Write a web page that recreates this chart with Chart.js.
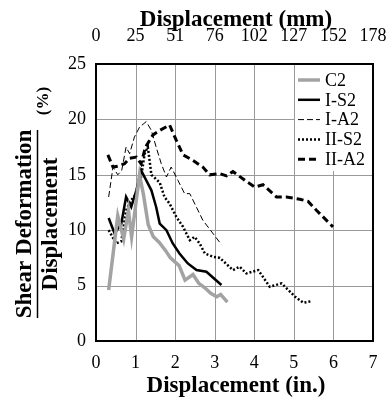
<!DOCTYPE html>
<html><head><meta charset="utf-8">
<script src="https://cdn.jsdelivr.net/npm/chart.js@4/dist/chart.umd.min.js"></script>
<style>html,body{margin:0;padding:0;background:#fff}#wrap{width:391px;height:398px}</style>
</head><body><div id="wrap"><canvas id="c" width="391" height="398"></canvas></div>
<script>
const seriesNames = ["C2", "I-S2", "I-A2", "II-S2", "II-A2"];
const xTicksIn = [0,1,2,3,4,5,6,7];
const xTicksMm = ["0","25","51","76","102","127","152","178"];
const yTicks = [0,5,10,15,20,25];

const c2 = [[0.32,4.6],[0.55,11.3],[0.7,9.2],[0.82,11.8],[0.9,9.4],[1.1,15.0],[1.2,13.2],[1.32,10.5],[1.45,9.4],[1.6,8.9],[1.75,8.2],[1.88,7.5],[2.1,6.8],[2.25,5.5],[2.45,6.0],[2.6,5.2],[2.75,4.8],[2.9,4.3],[3.05,4.0],[3.15,4.2],[3.32,3.5]];
const iS2 = [[0.32,11.1],[0.47,9.7],[0.64,10.6],[0.76,13.0],[0.89,12.1],[1.02,13.6],[1.14,15.4],[1.27,14.5],[1.4,13.6],[1.52,12.1],[1.61,10.6],[1.78,10.0],[1.94,8.8],[2.11,7.9],[2.32,7.0],[2.54,6.4],[2.79,6.25],[3.17,5.05]];
const iA2 = [[0.32,13.0],[0.43,15.7],[0.55,15.0],[0.65,15.4],[0.76,17.5],[0.85,16.9],[0.97,18.4],[1.1,19.3],[1.27,19.8],[1.4,19.0],[1.52,17.5],[1.65,16.0],[1.78,14.8],[1.9,15.7],[2.07,14.5],[2.24,13.3],[2.37,13.3],[2.7,10.9],[3.17,8.7]];
const iiS2 = [[0.32,10.0],[0.51,8.8],[0.64,9.0],[0.76,11.8],[0.89,12.7],[1.02,13.3],[1.14,14.8],[1.23,16.9],[1.31,17.5],[1.4,15.0],[1.61,14.3],[1.73,13.0],[1.86,12.4],[2.03,11.2],[2.2,10.3],[2.37,9.1],[2.49,9.4],[2.62,8.8],[2.75,7.9],[2.96,7.6],[3.13,7.5],[3.46,6.4],[3.63,6.7],[3.8,6.1],[4.1,6.4],[4.39,4.9],[4.69,5.2],[5.03,4.0],[5.24,3.45],[5.45,3.6]];
const iiA2 = [[0.3,16.8],[0.43,15.7],[0.58,15.8],[0.72,16.0],[0.85,16.5],[1.02,16.6],[1.14,16.0],[1.25,17.5],[1.44,18.6],[1.61,19.0],[1.86,19.5],[2.03,18.1],[2.2,16.8],[2.45,16.3],[2.7,15.7],[2.87,15.0],[3.13,15.1],[3.3,14.9],[3.46,15.3],[3.8,14.4],[4.01,13.9],[4.22,14.1],[4.56,13.0],[4.81,13.0],[5.15,12.8],[5.36,12.6],[5.57,11.8],[5.99,10.3]];

const serif = "'Liberation Serif','Times New Roman',serif";
const toPts = a => a.map(p => ({x:p[0], y:p[1]}));
const styles = [
  {borderColor:'#a3a3a3', borderWidth:3.5, borderDash:[]},
  {borderColor:'#000', borderWidth:2.5, borderDash:[]},
  {borderColor:'#000', borderWidth:1, borderDash:[6,3]},
  {borderColor:'#000', borderWidth:2.5, borderDash:[2,2]},
  {borderColor:'#000', borderWidth:3, borderDash:[7,4]}
];
const allData = [c2, iS2, iA2, iiS2, iiA2];
const datasets = allData.map((d,i) => Object.assign({
  label: seriesNames[i], data: toPts(d), pointRadius:0, tension:0, fill:false
}, styles[i]));

function drawGrid(chart){
  const {ctx, chartArea:a, scales} = chart;
  ctx.save();
  ctx.strokeStyle = '#9a9a9a';
  ctx.lineWidth = 1;
  ctx.setLineDash([]);
  for (let i = 1; i < xTicksIn.length - 1; i++) {
    const px = Math.round(scales.x.getPixelForValue(xTicksIn[i])) + 0.5;
    ctx.beginPath(); ctx.moveTo(px, a.top); ctx.lineTo(px, a.bottom); ctx.stroke();
  }
  for (let i = 1; i < yTicks.length - 1; i++) {
    const py = Math.round(scales.y.getPixelForValue(yTicks[i])) + 0.5;
    ctx.beginPath(); ctx.moveTo(a.left, py); ctx.lineTo(a.right, py); ctx.stroke();
  }
  ctx.restore();
}

const extras = {
  id:'extras',
  beforeDatasetsDraw(chart){ drawGrid(chart); },
  afterDatasetsDraw(chart){
    const {ctx, chartArea:a} = chart;
    ctx.save();
    const lx = 295, ly = a.top, lw = a.right - 295, lh = 107;
    ctx.fillStyle = '#fff';
    ctx.fillRect(lx, ly, lw, lh);
    ctx.font = "18px " + serif;
    ctx.textBaseline = 'middle';
    ctx.fillStyle = '#000';
    seriesNames.forEach((n,i)=>{
      const y = 80 + i*19.8;
      const s = styles[i];
      ctx.beginPath();
      ctx.strokeStyle = s.borderColor;
      ctx.lineWidth = s.borderWidth;
      ctx.setLineDash(s.borderDash);
      ctx.moveTo(298, y); ctx.lineTo(320, y); ctx.stroke();
      ctx.setLineDash([]);
      ctx.fillText(n, 325, y+1);
    });
    ctx.strokeStyle = '#000';
    ctx.lineWidth = 2;
    ctx.strokeRect(a.left, a.top, a.right - a.left, a.bottom - a.top);
    ctx.restore();
  },
  afterDraw(chart){
    const {ctx} = chart;
    ctx.save();
    ctx.fillStyle = '#000';
    ctx.font = "bold 23px " + serif;
    ctx.textAlign = 'center';
    ctx.textBaseline = 'middle';
    ctx.fillText('Displacement (mm)', 236, 20);
    ctx.fillText('Displacement (in.)', 236, 386);
    ctx.save();
    ctx.translate(25, 224);
    ctx.rotate(-Math.PI/2);
    ctx.fillText('Shear Deformation', 0, 0);
    ctx.restore();
    ctx.save();
    ctx.translate(51, 224);
    ctx.rotate(-Math.PI/2);
    ctx.fillText('Displacement', 0, 0);
    ctx.restore();
    ctx.beginPath();
    ctx.lineWidth = 1.5;
    ctx.strokeStyle = '#000';
    ctx.moveTo(37.5, 130); ctx.lineTo(37.5, 318); ctx.stroke();
    ctx.save();
    ctx.translate(44, 101);
    ctx.rotate(-Math.PI/2);
    ctx.font = "bold 17px " + serif;
    ctx.fillText('(%)', 0, 0);
    ctx.restore();
    ctx.restore();
  }
};

const noSidePad = s => { s.paddingLeft = 0; s.paddingRight = 0; };

new Chart(document.getElementById('c'), {
  type:'line',
  data:{datasets},
  plugins:[extras],
  options:{
    responsive:false, animation:false,
    layout:{padding:{left:0,right:18,top:0,bottom:0}},
    plugins:{legend:{display:false}, tooltip:{enabled:false}},
    scales:{
      x:{type:'linear', position:'bottom', min:0, max:7,
        afterBuildTicks: s => { s.ticks = xTicksIn.map(v=>({value:v})); },
        afterFit: s => { s.height = 57; noSidePad(s); },
        ticks:{font:{family:serif, size:18}, color:'#000', padding:11, maxRotation:0},
        grid:{display:false, drawTicks:false},
        border:{display:false}
      },
      xTop:{type:'linear', position:'top', min:0, max:7,
        afterBuildTicks: s => { s.ticks = xTicksIn.map(v=>({value:v})); },
        afterFit: s => { s.height = 64; noSidePad(s); },
        ticks:{font:{family:serif, size:18}, color:'#000', padding:17, maxRotation:0,
          callback:(v)=> xTicksMm[xTicksIn.indexOf(v)]},
        grid:{display:false, drawTicks:false}, border:{display:false}
      },
      y:{min:0, max:25,
        afterBuildTicks: s => { s.ticks = yTicks.map(v=>({value:v})); },
        afterFit: s => { s.width = 96; },
        ticks:{font:{family:serif, size:18}, color:'#000', padding:10},
        grid:{display:false, drawTicks:false},
        border:{display:false}
      }
    }
  }
});
</script></body></html>
